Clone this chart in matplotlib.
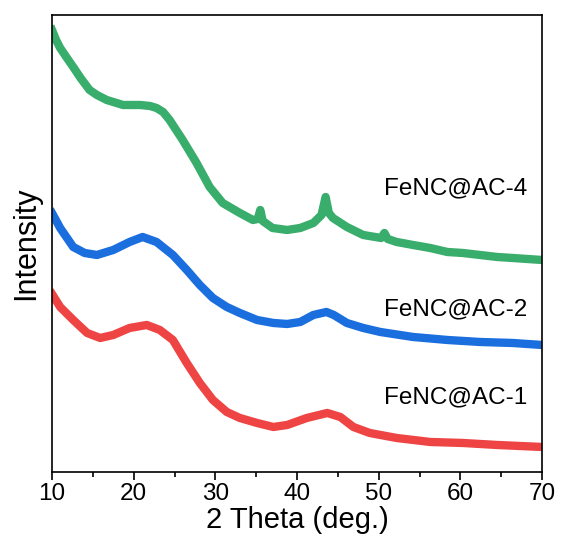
import matplotlib
matplotlib.use('Agg')
import matplotlib.pyplot as plt
from matplotlib.ticker import MultipleLocator

plt.rcParams['font.family'] = ['Liberation Sans', 'DejaVu Sans']

# valores (intensidad en unidades arbitrarias)
theta_ac4 = [10.0, 10.5, 11.0, 12.0, 12.6, 13.5, 14.6, 15.5, 16.7, 18.7, 20.8, 22.0,
             22.8, 23.6, 24.4, 25.2, 26.0, 27.7, 29.3, 30.9, 33.0, 34.6, 35.2, 35.5,
             35.8, 37.0, 38.8, 40.4, 42.0, 43.0, 43.5, 43.9, 44.4, 46.1, 48.1, 50.3,
             50.7, 51.1, 52.2, 54.2, 56.3, 58.4, 60.3, 62.4, 64.5, 66.4, 70.0]
int_ac4 = [442, 432, 424, 412, 405, 394, 382, 377, 372, 367, 367, 366,
           364, 360, 352, 342, 332, 309, 285, 269, 259, 252, 253, 262,
           251, 244, 242, 244, 249, 257, 275, 259, 254, 245, 237, 234,
           239, 233, 230, 227, 224, 220, 219, 217, 215, 214, 212]

theta_ac2 = [10.0, 11.0, 12.6, 14.0, 15.5, 17.5, 19.5, 21.1, 22.8, 24.8, 26.5, 28.1,
             29.7, 31.4, 33.0, 35.1, 37.1, 38.8, 40.4, 42.0, 43.6, 44.5, 46.1, 48.1,
             50.2, 54.2, 58.4, 62.4, 66.4, 70.0]
int_ac2 = [259, 244, 225, 219, 217, 222, 230, 235, 230, 217, 202, 187,
           174, 165, 159, 152, 149, 148, 150, 157, 160, 157, 149, 144,
           140, 135, 132, 130, 129, 127]

theta_ac1 = [10.0, 11.0, 12.6, 14.3, 15.9, 17.5, 19.5, 21.6, 23.2, 24.8, 26.5, 28.1,
             29.7, 31.4, 33.0, 35.1, 37.1, 38.8, 41.2, 43.7, 45.3, 46.9, 48.9, 52.2,
             56.3, 60.3, 64.5, 70.0]
int_ac1 = [178, 165, 152, 139, 134, 137, 144, 147, 142, 132, 109, 89,
           72, 60, 54, 49, 45, 47, 54, 59, 55, 45, 39, 34,
           30, 29, 27, 25]

etiquetas = ['FeNC@AC-1', 'FeNC@AC-2', 'FeNC@AC-4']
y_etiquetas = [75, 163, 284]

fig = plt.figure(figsize=(5.62, 5.45), dpi=100)
ax = fig.add_axes([0.0925, 0.134, 0.872, 0.8385])

ax.plot(theta_ac1, int_ac1, color='#ef4444', linewidth=6, solid_joinstyle='round')
ax.plot(theta_ac2, int_ac2, color='#1b6ede', linewidth=6, solid_joinstyle='round')
ax.plot(theta_ac4, int_ac4, color='#39ad6b', linewidth=6, solid_joinstyle='round')

for txt, yy in zip(etiquetas, y_etiquetas):
    ax.text(68.2, yy, txt, ha='right', va='center', fontsize=17.5)

ax.set_xlim(10, 70)
ax.set_ylim(0, 457)
ax.xaxis.set_major_locator(MultipleLocator(10))
ax.xaxis.set_minor_locator(MultipleLocator(5))
ax.set_yticks([])
ax.tick_params(axis='x', which='major', direction='out', length=6, width=1.2,
               labelsize=17.5, pad=2)
ax.tick_params(axis='x', which='minor', direction='out', length=3.5, width=1.2)
for s in ax.spines.values():
    s.set_linewidth(1.2)

ax.set_xlabel('2 Theta (deg.)', fontsize=21, labelpad=1)
ax.set_ylabel('Intensity', fontsize=22, labelpad=8)

plt.savefig('out.png', dpi=100)
